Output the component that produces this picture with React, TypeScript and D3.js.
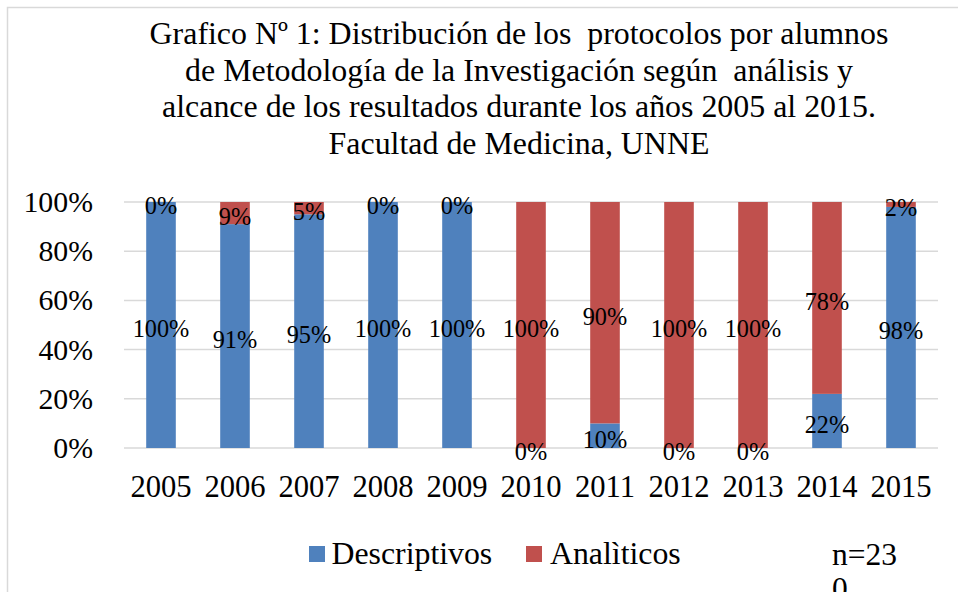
import React from "react";
import * as d3 from "d3";

const years = ["2005","2006","2007","2008","2009","2010","2011","2012","2013","2014","2015"];
const descriptivos = [100, 91, 95, 100, 100, 0, 10, 0, 0, 22, 98];
const analiticos = [0, 9, 5, 0, 0, 100, 90, 100, 100, 78, 2];
const yTicks = [0, 20, 40, 60, 80, 100];
const titleLines = [
  "Grafico Nº 1: Distribución de los  protocolos por alumnos",
  "de Metodología de la Investigación según  análisis y",
  "alcance de los resultados durante los años 2005 al 2015.",
  "Facultad de Medicina, UNNE",
];
const seriesNames = ["Descriptivos", "Analìticos"];
const colors = ["#4F81BD", "#C0504D"];

const W = 958, H = 592;
const font = "'Liberation Serif', 'Times New Roman', serif";

export default function App() {
  const x = d3.scaleBand<string>().domain(years).range([124, 938]).paddingInner(0.6).paddingOuter(0.3);
  const y = d3.scaleLinear().domain([0, 100]).range([448, 202]);
  const stackData = years.map((yr, i) => ({ year: yr, d: descriptivos[i], a: analiticos[i] }));
  const stack = d3.stack<any>().keys(["d", "a"])(stackData);

  return (
    <svg width={W} height={H} style={{ position: "absolute", left: 0, top: 0 }} fontFamily={font}>
      <rect x={0} y={0} width={W} height={H} fill="#fff" />
      <rect x={7.5} y={7.5} width={W + 20} height={H + 20} fill="none" stroke="#d9d9d9" strokeWidth={1.5} />
      {titleLines.map((t, i) => (
        <text key={i} x={519} y={44 + i * 36.5} textAnchor="middle" fontSize={31.9} fill="#000" style={{ whiteSpace: "pre" }}>
          {t}
        </text>
      ))}
      {yTicks.map((t) => (
        <g key={t}>
          <line x1={124} x2={938} y1={y(t)} y2={y(t)} stroke="#d9d9d9" strokeWidth={1.5} />
          <text x={93} y={y(t) + 10} textAnchor="end" fontSize={29.8} fill="#000">{t}%</text>
        </g>
      ))}
      {stack.map((s, si) => (
        <g key={si} fill={colors[si]}>
          {s.map((p, i) => (
            <rect key={i} x={x(years[i])} width={x.bandwidth()} y={y(p[1])} height={y(p[0]) - y(p[1])} />
          ))}
        </g>
      ))}
      {stack.map((s, si) => (
        <g key={"l" + si}>
          {s.map((p, i) => (
            <text key={i} x={(x(years[i]) as number) + x.bandwidth() / 2} y={(y(p[0]) + y(p[1])) / 2 + 12}
              textAnchor="middle" fontSize={24.3} fill="#000">
              {(si === 0 ? descriptivos[i] : analiticos[i]) + "%"}
            </text>
          ))}
        </g>
      ))}
      {years.map((yr) => (
        <text key={yr} x={(x(yr) as number) + x.bandwidth() / 2} y={497} textAnchor="middle" fontSize={30.6} fill="#000">{yr}</text>
      ))}
      <rect x={309} y={546} width={16} height={16} fill={colors[0]} />
      <text x={331.5} y={564} fontSize={31.8} fill="#000">{seriesNames[0]}</text>
      <rect x={526} y={546} width={16} height={16} fill={colors[1]} />
      <text x={550} y={564} fontSize={31.8} fill="#000">{seriesNames[1]}</text>
      <text x={832} y={565} fontSize={31.5} fill="#000">
        <tspan x={832}>n=23</tspan>
        <tspan x={832} dy={34}>0</tspan>
      </text>
    </svg>
  );
}
